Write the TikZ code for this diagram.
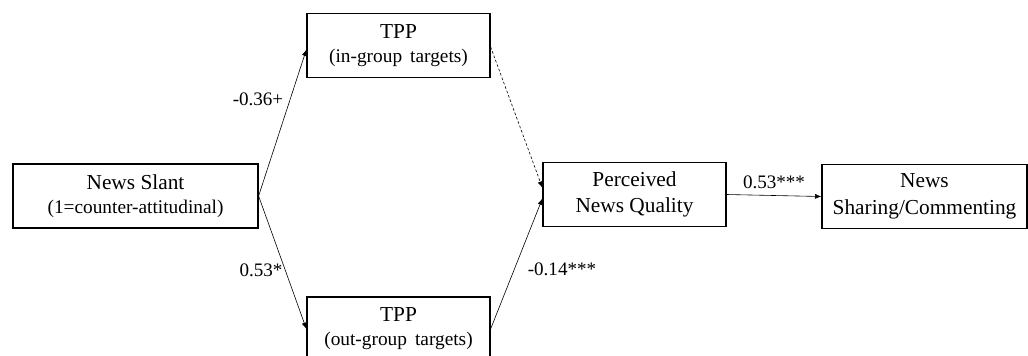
\documentclass[tikz,border=0pt]{standalone}
\usepackage{fontspec}
\setmainfont{Liberation Serif}
\usepackage{tikz}
\usetikzlibrary{arrows,arrows.meta}

\newcommand{\subline}[1]{{\fontsize{14.5pt}{17pt}\selectfont #1}}

\tikzset{
	varbox/.style={draw=black,fill=white,line width=0.9pt,minimum height=48pt,inner sep=0pt,align=center,font=\fontsize{16pt}{19pt}\selectfont},
	effect/.style={line width=0.45pt,-{Latex[length=4.8pt,width=3.8pt]}},
	coef/.style={font=\fontsize{14.3pt}{17pt}\selectfont,inner sep=0pt}
}

\begin{document}
\begin{tikzpicture}[x=0.75pt,y=-0.75pt]
	\useasboundingbox (0,0) rectangle (1028,355);
	\clip (0,0) rectangle (1028,355);
	%BOXES
	\node[varbox,minimum width=183.75pt] (slant) at (135.5,196) {News Slant\\[-1pt]\subline{(1=counter-attitudinal)}};
	\node[varbox,minimum width=137.25pt] (tppin) at (398.5,45.5) {TPP\\[-1pt]\subline{(in-group\, targets)}};
	\node[varbox,minimum width=137.25pt] (tppout) at (398.5,329) {TPP\\[-1pt]\subline{(out-group\, targets)}};
	\node[varbox,minimum width=137.25pt] (perc) at (634.5,194.5) {Perceived\\[1pt]News Quality};
	\node[varbox,minimum width=153.75pt] (share) at (924.5,196.5) {News\\[1pt]Sharing/Commenting};
	
	%ARROWS
	\draw[effect] (slant.east)--([yshift=-3pt]tppin.west);
	\draw[effect] (slant.east)--(tppout.west);
	\draw[effect,dash pattern=on 2pt off 1.5pt] ([yshift=-1pt]tppin.east)--([yshift=5pt]perc.west);
	\draw[effect] (tppout.east)--([yshift=-3pt]perc.west);
	\draw[effect] (perc.east)--(share.west);
	
	%LABELS
	\node[coef] (c1) at (258,99)  {-0.36+};
	\node[coef] (c2) at (261,270) {0.53*};
	\node[coef] (c3) at (562,269) {-0.14***};
	\node[coef] (c4) at (774,182) {0.53***};
\end{tikzpicture}
\end{document}
